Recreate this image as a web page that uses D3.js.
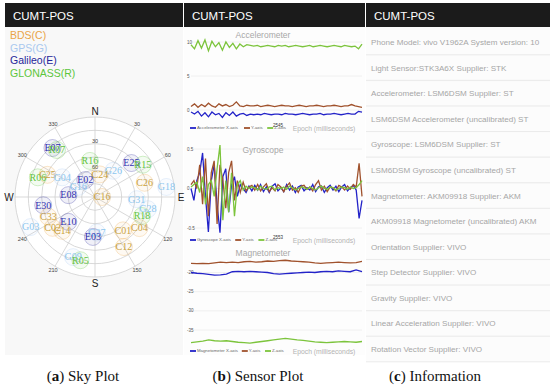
<!DOCTYPE html>
<html><head><meta charset="utf-8">
<script src="https://cdn.jsdelivr.net/npm/d3@7"></script>
<style>body{margin:0;background:#fff}svg{display:block}</style>
</head><body>
<svg id="c" width="550" height="390"></svg>
<script>
// ---------- DATA ----------
const panelTitles = ["CUMT-POS","CUMT-POS","CUMT-POS"];
const captions = [["a"," Sky Plot"],["b"," Sensor Plot"],["c"," Information"]];
const constellations = ["BDS(C)","GPS(G)","Galileo(E)","GLONASS(R)"];
const consColors = ["#eaa447","#a9c8ef","#25259a","#5cc63c"];
const satText = {C:"#c9a23e",G:"#8cc6ee",E:"#3030b0",R:"#62c440"};
const satNames = ["E07","R07","R16","E25","R15","G26","C24","R06","C25","G04","E02","C26","G16","G18","E08","C16","G31","E30","G28","R18","C33","E10","G03","C02","C14","C01","C04","G27","E03","C12","G09","R05"];
const satAz =    [319,321,352,47,56,35,12,289,295,301,330,74,301,82,274,90,93,261,103,112,247,227,245,234,224,140,125,177,183,150,200,193];
const satEl =    [17,22,49,34,25,54,64,22,31,47,68,32,68,9,60,82,43,31,29,33,33,49,10,31,37,41,29,50,45,25,18,17];
const ringElev = [0,15,30,45,60,75];
const azLabels = [30,60,120,150,210,240,300,330];
const compass = [["N",0],["E",90],["S",180],["W",270]];

const accX = [-0.3,-0.6,-0.2,-0.9,-0.4,-1.0,-0.3,-0.7,-0.5,-1.1,-0.4,-0.8,-0.3,-0.9,-0.6,-0.5,-0.8,-0.6,-0.7,-0.6,-0.7,-0.5,-0.6,-0.7,-0.6,-0.6,-0.7,-0.5,-0.6,-0.6,-0.7,-0.6,-0.5,-0.6,-0.7,-0.6,-0.6,-0.5,-0.7,-0.6,-0.6,-0.5,-0.6,-0.7,-0.6,-0.5,-0.6,-0.6,-0.2,-0.3];
const accY = [0.5,0.9,0.4,0.8,0.5,1.0,0.6,0.4,0.9,0.6,0.8,0.5,0.7,1.2,0.6,0.5,0.7,0.6,0.6,0.7,0.5,0.6,0.7,0.6,0.5,0.6,0.7,0.6,0.6,0.5,0.6,0.7,0.6,0.5,0.6,0.6,0.7,0.6,0.5,0.6,0.6,0.7,0.6,0.5,0.6,0.6,0.8,0.6,0.5,0.4];
const accZ = [9.6,9.0,10.2,9.1,10.3,8.7,10.1,9.3,9.9,8.8,10.0,9.2,9.8,9.0,9.7,9.3,9.6,9.5,9.4,9.5,9.3,9.4,9.5,9.4,9.3,9.5,9.4,9.5,9.3,9.4,9.5,9.4,9.3,9.4,9.5,9.3,9.4,9.5,9.4,9.3,9.4,9.5,9.4,9.3,9.5,9.4,9.3,9.4,9.0,9.7];
const accTicks = [0,5,10];

const gyrX = [0.0,-0.15,0.1,0.2,0.45,-0.1,-0.55,0.1,0.3,-0.2,-0.56,0.15,0.25,-0.3,0.05,0.15,-0.1,0.05,0.0,-0.05,0.03,
 -0.03,0.04,-0.02,0.05,-0.04,0.02,-0.05,0.03,0.06,-0.03,0.01,-0.04,0.05,-0.02,0.03,-0.05,0.02,0.04,-0.03,0.01,-0.02,0.05,-0.04,0.02,0.03,-0.05,0.01,0.04,-0.02,0.03,-0.04,0.02,0.05,-0.03,0.01,0.04,-0.02,-0.38,-0.15];
const gyrY = [0.05,0.1,0.0,0.3,-0.2,0.38,-0.35,0.2,0.35,-0.45,0.3,0.1,-0.25,0.2,0.35,-0.15,0.1,-0.05,0.08,-0.03,0.02,
 0.04,-0.02,0.05,-0.03,0.02,0.06,-0.04,0.01,-0.03,0.05,0.02,-0.04,0.03,0.07,-0.02,0.01,-0.05,0.03,0.04,-0.01,0.02,-0.03,0.05,0.1,-0.02,0.03,-0.04,0.02,0.01,-0.03,0.04,0.02,-0.02,0.03,-0.01,0.05,0.02,0.32,-0.1];
const gyrZ = [0.02,0.05,0.08,-0.05,0.15,-0.2,0.05,0.1,-0.1,0.25,0.55,-0.4,0.1,-0.3,0.2,-0.35,0.05,0.1,-0.02,0.03,0.0,
 0.02,0.01,-0.02,0.03,0.0,-0.01,0.02,0.03,-0.02,0.01,0.0,0.02,-0.01,0.03,0.01,-0.02,0.0,0.02,0.01,-0.01,0.02,0.0,-0.02,0.01,0.03,0.0,-0.01,0.02,0.01,-0.02,0.0,0.02,0.01,-0.01,0.02,0.0,0.01,0.05,0.1];
const gyrTicks = [-0.5,0,0.5];

const magX = [-20.0,-20.2,-20.3,-20.5,-20.7,-20.6,-20.4,-19.8,-19.7,-19.8,-19.7,-19.8,-19.9,-20.0,-20.3,-20.4,-20.3,-20.2,-20.1,-20.0,-19.9,-20.0,-19.8,-19.7,-19.8,-19.6,-19.7,-19.8,-19.3,-19.8];
const magY = [-17.6,-17.7,-17.6,-17.7,-17.5,-17.3,-17.4,-17.3,-17.4,-17.2,-17.1,-17.3,-17.2,-17.0,-17.1,-16.9,-16.8,-17.0,-17.1,-17.2,-17.3,-17.5,-17.6,-17.5,-17.4,-17.3,-17.4,-17.5,-17.4,-17.1];
const magZ = [-38.3,-38.1,-37.9,-37.6,-37.8,-37.9,-37.8,-38.0,-38.2,-38.3,-38.4,-38.2,-38.0,-37.8,-37.6,-37.4,-37.2,-37.4,-37.6,-37.7,-37.9,-38.1,-38.2,-38.3,-38.2,-38.1,-38.0,-38.1,-38.2,-38.0];
const magTicks = [-35,-30,-25,-20];

const sensorTitles = ["Accelerometer","Gyroscope","Magnetometer"];
const epochTicks = ["2545","2553",""];
const axisNames = ["X-axis","Y-axis","Z-axis"];
const axisColors = ["#2323c8","#a0522d","#7cc43c"];

const infoRows = ["Phone Model: vivo V1962A  System version: 10","Light Sensor:STK3A6X  Supplier: STK","Accelerometer: LSM6DSM  Supplier: ST","LSM6DSM Accelerometer (uncalibrated)  ST","Gyroscope: LSM6DSM  Supplier: ST","LSM6DSM Gyroscope (uncalibrated)  ST","Magnetometer: AKM09918 Supplier: AKM","AKM09918 Magnetometer (uncalibrated)  AKM","Orientation Supplier: VIVO","Step Detector Supplier: VIVO","Gravity  Supplier: VIVO","Linear Acceleration  Supplier: VIVO","Rotation Vector  Supplier: VIVO"];

// ---------- DRAW ----------
const svg = d3.select("#c");
const sans = "Liberation Sans, Arial, sans-serif";
const serif = "Liberation Serif, Times New Roman, serif";

const panels = [[5,183],[184,365],[366,550]];
svg.selectAll("rect.bg").data(panels).join("rect")
  .attr("x",d=>d[0]).attr("y",27).attr("width",d=>d[1]-d[0]).attr("height",328)
  .attr("fill",(d,i)=>i===0?"#f8f8f8":(i===1?"#fdfdfd":"#fafafa"));
svg.selectAll("rect.hd").data(panels).join("rect")
  .attr("x",d=>d[0]).attr("y",3).attr("width",d=>d[1]-d[0]).attr("height",24).attr("fill","#1b1b1b");
svg.selectAll("text.hd").data(panels).join("text")
  .attr("x",d=>d[0]+8).attr("y",19.5).text((d,i)=>panelTitles[i])
  .attr("fill","#fff").attr("font-family",sans).attr("font-size",11.5);

const capX = [83,258,435];
captions.forEach((c,i)=>{
  const t = svg.append("text").attr("x",capX[i]).attr("y",381).attr("text-anchor","middle")
    .attr("font-family",serif).attr("font-size",15).attr("fill","#111");
  t.append("tspan").text("(");
  t.append("tspan").attr("font-weight","bold").text(c[0]);
  t.append("tspan").text(")"+c[1]);
});

// ---- (a) sky plot ----
svg.selectAll("text.leg").data(constellations).join("text")
  .attr("x",10).attr("y",(d,i)=>39+i*12.7).text(d=>d).attr("fill",(d,i)=>consColors[i])
  .attr("font-family",sans).attr("font-size",10.5);

const cx=95, cy=197, R=80;
const rScale = d3.scaleLinear().domain([90,0]).range([0,R]);
const ang = a => (a-90)*Math.PI/180;
const sky = svg.append("g").attr("transform",`translate(${cx},${cy})`);
sky.selectAll("circle.ring").data(ringElev).join("circle")
  .attr("r",d=>rScale(d)).attr("fill",d=>d===0?"#fff":"none").attr("stroke","#cfcfcf").attr("stroke-width",0.8);
sky.selectAll("line.spoke").data(d3.range(0,360,30)).join("line")
  .attr("x1",0).attr("y1",0).attr("x2",d=>R*Math.cos(ang(d))).attr("y2",d=>R*Math.sin(ang(d)))
  .attr("stroke","#cfcfcf").attr("stroke-width",0.8);
sky.selectAll("text.el").data([30,60]).join("text")
  .attr("x",0).attr("y",d=>-rScale(d)-1).attr("text-anchor","middle").text(d=>d)
  .attr("font-family",sans).attr("font-size",5.5).attr("fill","#444");
sky.selectAll("text.az").data(azLabels).join("text")
  .attr("x",d=>84*Math.cos(ang(d))).attr("y",d=>84*Math.sin(ang(d))+2)
  .attr("text-anchor","middle").text(d=>d).attr("font-family",sans).attr("font-size",5.5).attr("fill","#444");
sky.selectAll("text.cp").data(compass).join("text")
  .attr("x",d=>86*Math.cos(ang(d[1]))).attr("y",d=>86*Math.sin(ang(d[1]))+3.5)
  .attr("text-anchor","middle").text(d=>d[0]).attr("font-family",sans).attr("font-size",10).attr("fill","#222");
const sats = satNames.map((n,i)=>({n,az:satAz[i],el:satEl[i],
  x:rScale(satEl[i])*Math.cos(ang(satAz[i])), y:rScale(satEl[i])*Math.sin(ang(satAz[i]))}));
const ci = {C:0,G:1,E:2,R:3};
sky.selectAll("circle.sat").data(sats).join("circle")
  .attr("cx",d=>d.x).attr("cy",d=>d.y).attr("r",8.5)
  .attr("fill",d=>consColors[ci[d.n[0]]]).attr("fill-opacity",0.07)
  .attr("stroke",d=>consColors[ci[d.n[0]]]).attr("stroke-opacity",0.35).attr("stroke-width",0.8);
sky.selectAll("text.sat").data(sats).join("text")
  .attr("x",d=>d.x).attr("y",d=>d.y+3.3).attr("text-anchor","middle").text(d=>d.n)
  .attr("fill",d=>satText[d.n[0]]).attr("font-family",serif).attr("font-size",10);

// ---- (b) sensor plots ----
const x0=191, x1=362;
function sensor(series, ticks, domain, yr, title, titleY, legendY, prefix, epoch){
  const n = series[0].length;
  const xs = d3.scaleLinear().domain([0,n-1]).range([x0,x1]);
  const ys = d3.scaleLinear().domain(domain).range(yr);
  const g = svg.append("g");
  g.selectAll("line.gr").data(ticks).join("line")
    .attr("x1",x0).attr("x2",x1).attr("y1",d=>ys(d)).attr("y2",d=>ys(d)).attr("stroke","#ececec").attr("stroke-width",0.8);
  g.selectAll("text.tk").data(ticks).join("text")
    .attr("x",187).attr("y",d=>ys(d)+1.5).text(d=>d).attr("font-family",sans).attr("font-size",4.5).attr("fill","#555");
  g.append("text").attr("x",263).attr("y",titleY).attr("text-anchor","middle").text(title)
    .attr("font-family",sans).attr("font-size",8.5).attr("fill","#a8a8a8");
  const line = d3.line().x((d,i)=>xs(i)).y(d=>ys(d)).curve(d3.curveLinear);
  series.forEach((s,k)=>{
    g.append("path").attr("d",line(s)).attr("fill","none").attr("stroke",axisColors[k]).attr("stroke-width",1.3);
  });
  let lx = 190;
  axisNames.forEach((a,k)=>{
    g.append("line").attr("x1",lx).attr("x2",lx+6).attr("y1",legendY).attr("y2",legendY)
      .attr("stroke",axisColors[k]).attr("stroke-width",1.8);
    const label = k===0 ? prefix+" "+a : a;
    g.append("text").attr("x",lx+7).attr("y",legendY+1.4).text(label)
      .attr("font-family",sans).attr("font-size",4.3).attr("fill","#666");
    lx += 8 + label.length*2.2 + 2;
  });
  if(epoch) g.append("text").attr("x",278).attr("y",legendY-1.5).attr("text-anchor","middle").text(epoch)
      .attr("font-family",sans).attr("font-size",4.5).attr("fill","#333");
  g.append("text").attr("x",324).attr("y",legendY+2.5).attr("text-anchor","middle").text("Epoch (milliseconds)")
    .attr("font-family",sans).attr("font-size",6.8).attr("fill","#b4b4b4");
}
sensor([accX,accY,accZ], accTicks, [0,10], [110,42], sensorTitles[0], 38, 128, "Accelerometer", epochTicks[0]);
sensor([gyrX,gyrY,gyrZ], gyrTicks, [-0.5,0.5], [228,149], sensorTitles[1], 153, 240, "Gyroscope", epochTicks[1]);
sensor([magX,magY,magZ], magTicks, [-35,-20], [330,272.5], sensorTitles[2], 256, 351, "Magnetometer", epochTicks[2]);

// ---- (c) information ----
const rowY = d3.scaleLinear().domain([0,12]).range([42,349]);
svg.selectAll("rect.row").data(infoRows).join("rect")
  .attr("x",366).attr("y",(d,i)=>rowY(i)-12).attr("width",184).attr("height",24.5).attr("fill","#fcfcfc");
svg.selectAll("line.row").data(infoRows).join("line")
  .attr("x1",366).attr("x2",550).attr("y1",(d,i)=>rowY(i)+12.8).attr("y2",(d,i)=>rowY(i)+12.8)
  .attr("stroke","#e6e6e6").attr("stroke-width",0.8);
svg.selectAll("text.row").data(infoRows).join("text")
  .attr("x",371).attr("y",(d,i)=>rowY(i)+3).text(d=>d)
  .attr("font-family",sans).attr("font-size",8.1).attr("fill","#a6a6a6");
</script>
</body></html>
